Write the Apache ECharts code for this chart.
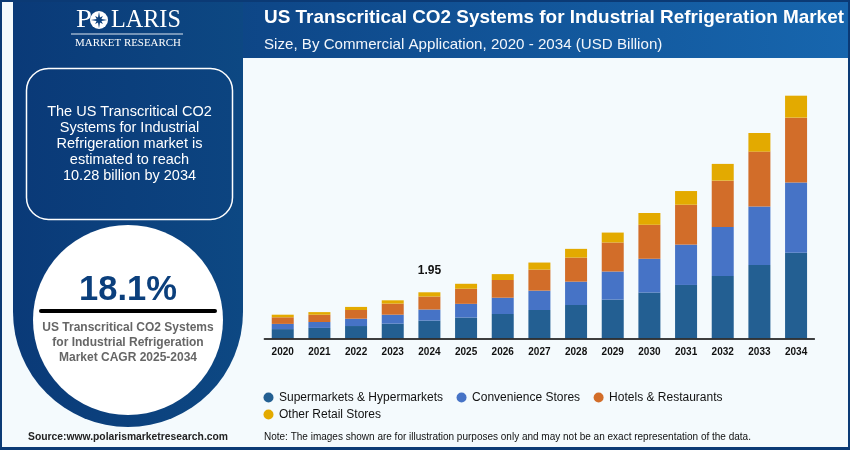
<![CDATA[<!DOCTYPE html>
<html><head><meta charset="utf-8">
<style>html,body{margin:0;padding:0;background:#f4fafd}#c{width:850px;height:450px}</style>
<script src="https://cdn.jsdelivr.net/npm/echarts@6/dist/echarts.min.js"></script>
</head><body><div id="c"></div>
<script>
const categories=['2020','2021','2022','2023','2024','2025','2026','2027','2028','2029','2030','2031','2032','2033','2034'];
const supermarkets=[0.39,0.44,0.52,0.62,0.75,0.88,1.03,1.20,1.41,1.64,1.94,2.26,2.64,3.11,3.63];
const convenience=[0.22,0.25,0.31,0.38,0.47,0.58,0.69,0.82,0.99,1.19,1.43,1.71,2.08,2.47,2.97];
const hotels=[0.28,0.31,0.37,0.47,0.55,0.64,0.75,0.89,1.02,1.23,1.44,1.69,1.96,2.33,2.75];
const others=[0.11,0.11,0.13,0.14,0.18,0.21,0.25,0.30,0.37,0.42,0.50,0.58,0.71,0.79,0.93];
const seriesNames=['Supermarkets & Hypermarkets','Convenience Stores','Hotels & Restaurants','Other Retail Stores'];
const colors=['#235f92','#4673c6','#d26d29','#e3aa00'];
const labelYear='2024', labelText='1.95';
const titleText='US Transcritical CO2 Systems for Industrial Refrigeration Market';
const subtitleText='Size, By Commercial Application, 2020 - 2034 (USD Billion)';
const boxLines=['The US Transcritical CO2','Systems for Industrial','Refrigeration market is','estimated to reach','10.28 billion by 2034'];
const cagrText='18.1%';
const cagrLines=['US Transcritical CO2 Systems','for Industrial Refrigeration','Market CAGR 2025-2034'];
const sourceText='Source:www.polarismarketresearch.com';
const noteText='Note: The images shown are for illustration purposes only and may not be an exact representation of the data.';

const A='"Liberation Sans",Arial,sans-serif', S='"Liberation Serif",serif';
function T(text,x,y,font,fill,align,sx){return {type:'text',x:x,y:y,scaleX:sx||1,z:5,silent:true,style:{text:text,x:0,y:0,font:font,fill:fill,textAlign:align||'left',textVerticalAlign:'middle'}};}
function grad(a,b){return new echarts.graphic.LinearGradient(0,0,1,0,[{offset:0,color:a},{offset:1,color:b}]);}
function R(x,y,w,h,fill){return {type:'rect',z:1,silent:true,shape:{x:x,y:y,width:w,height:h},style:{fill:fill}};}
const star=[];
for(let i=0;i<16;i++){const r=i%2?2.6:(i%4?5.5:8.2),a=i*Math.PI/8;star.push([99+r*Math.sin(a),20-r*Math.cos(a)]);}

const graphics=[
 R(0,0,850,450,'#0b3a75'),
 R(2,2,846,445,'#f4fafd'),
 R(13,2,835,56,grad('#0a3a78','#1766ae')),
 R(13,2,230,310,grad('#0a3a78','#0d4883')),
 {type:'circle',z:1,silent:true,shape:{cx:128,cy:312,r:115},style:{fill:grad('#0a3a78','#0d4883')}},
 {type:'rect',z:2,silent:true,shape:{x:26.5,y:68.5,width:206,height:151,r:22},style:{fill:grad('#0a3a78','#0c4480'),stroke:'#fff',lineWidth:1.5}},
 {type:'circle',z:2,silent:true,shape:{cx:128,cy:320,r:95},style:{fill:'#fff'}},
 {type:'line',z:3,silent:true,shape:{x1:41,y1:311,x2:215,y2:311},style:{stroke:'#000',lineWidth:4,lineCap:'round'}},
 {type:'line',z:3,silent:true,shape:{x1:71,y1:34,x2:183,y2:34},style:{stroke:'#dfe8f2',lineWidth:1}},
 {type:'circle',z:3,silent:true,shape:{cx:99,cy:20,r:9},style:{fill:'#fff'}},
 {type:'polygon',z:4,silent:true,shape:{points:star},style:{fill:'#0b3f7c'}},
 T('P',76,20.5,'26px '+S,'#fff','left',1.1),
 T('LARIS',111,20.5,'26px '+S,'#fff','left',0.93),
 T('MARKET RESEARCH',128,43.5,'10.5px '+S,'#fff','center',1.04),
 T(titleText,264,17.5,'bold 19px '+A,'#fff','left',0.995),
 T(subtitleText,264,44.5,'15px '+A,'#f2f6fb','left',1.008),
 T(cagrText,128,290,'bold 34.5px '+A,'#0b3f7c','center'),
 T(sourceText,28,437,'bold 10px '+A,'#222','left',1.033),
 T(noteText,264,437.5,'10px '+A,'#111','left',1)
];
boxLines.forEach((t,i)=>graphics.push(T(t,129.5,112+i*16,'14.5px '+A,'#fff','center')));
cagrLines.forEach((t,i)=>graphics.push(T(t,128,327.5+i*15.2,'bold 12px '+A,'#666','center')));

const vals=[supermarkets,convenience,hotels,others];
const series=vals.map((v,i)=>({
  name:seriesNames[i],type:'bar',stack:'t',barWidth:22,itemStyle:{color:colors[i]},
  data:v.map((d,j)=>(i===3&&categories[j]===labelYear)?{value:d,label:{show:true,position:'top',distance:15.5,formatter:labelText,fontFamily:A,fontWeight:'bold',fontSize:12,color:'#111'}}:d),
  emphasis:{disabled:true}
}));
const legendBase={left:258.5,itemWidth:11,itemHeight:10,itemGap:13.5,icon:'circle',selectedMode:false,textStyle:{fontFamily:A,fontSize:12,color:'#111'}};
const chart=echarts.init(document.getElementById('c'),null,{renderer:'canvas'});
chart.setOption({
  animation:false,
  graphic:{elements:graphics},
  grid:{left:264.4,width:550,top:78.7,height:259.6,containLabel:false},
  legend:[
    Object.assign({},legendBase,{top:386.5,data:seriesNames.slice(0,3)}),
    Object.assign({},legendBase,{top:403.5,data:seriesNames.slice(3)})
  ],
  xAxis:{type:'category',data:categories,z:10,axisTick:{show:false},
    axisLine:{lineStyle:{color:'#000',width:1.5}},
    axisLabel:{fontFamily:A,fontWeight:'bold',fontSize:10,color:'#111',margin:9,interval:0}},
  yAxis:{type:'value',min:0,max:11,show:false,splitLine:{show:false}},
  series:series
});
</script></body></html>]]>
